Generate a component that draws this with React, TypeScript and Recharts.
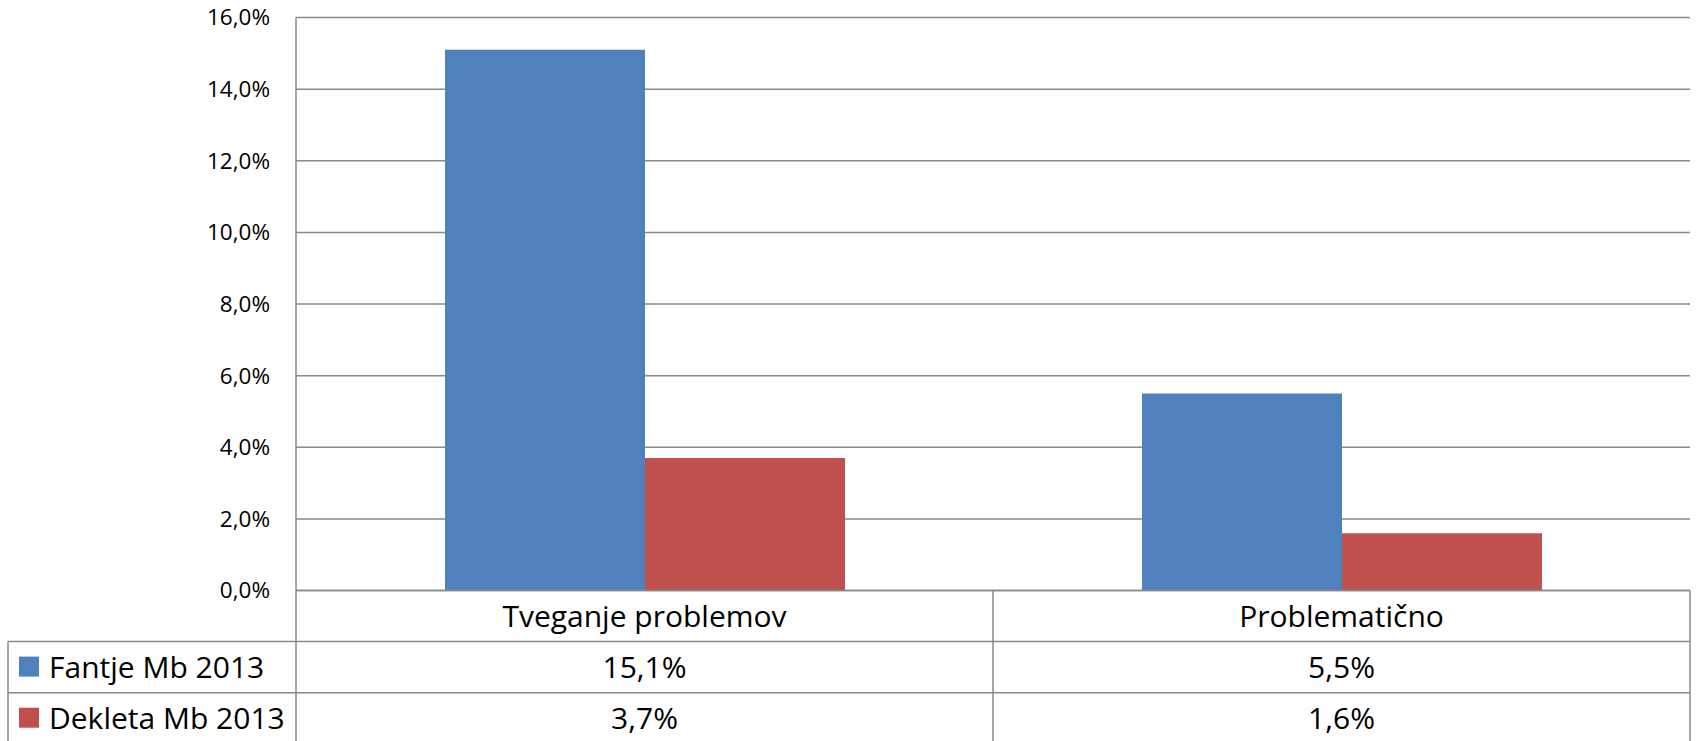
import { BarChart, Bar, XAxis, YAxis, CartesianGrid } from 'recharts'

const categories = ['Tveganje problemov', 'Problematično']
const seriesNames = ['Fantje Mb 2013', 'Dekleta Mb 2013']
const fantje = [15.1, 5.5]
const dekleta = [3.7, 1.6]
const yTicks = [0, 2, 4, 6, 8, 10, 12, 14, 16]

const colors = ['#4F81BD', '#C0504D']
const lineColor = '#898989'
const font = '"Open Sans", sans-serif'

const W = 1696
const H = 741
const plotLeft = 296
const plotRight = 1690
const plotTop = 17.5
const plotBottom = 590.5
const yAxisWidth = 80
const rowH = 51.1
const tableLeft = 8

const seriesValues = [fantje, dekleta]
const data = categories.map((name, i) => ({ name, fantje: fantje[i], dekleta: dekleta[i] }))

function fmt(v: number): string {
  return v.toFixed(1).replace('.', ',') + '%'
}

// x axis tick draws the data table under the plot (category row + one row per series)
function TableTick(props: any) {
  const { x, y, index } = props
  const band = (plotRight - plotLeft) / categories.length
  const left = x - band / 2
  const right = x + band / 2
  const ln = { stroke: lineColor, strokeWidth: 1.5 }
  const txt = { fontFamily: font, fontSize: 30, fill: '#000' }

  return (
    <g>
      {index === 0 && <line x1={left} y1={y} x2={left} y2={H} {...ln} />}
      <line x1={right} y1={y} x2={right} y2={H} {...ln} />
      {seriesValues.map((_, s) => (
        <line key={s} x1={left} y1={y + rowH * (s + 1)} x2={right} y2={y + rowH * (s + 1)} {...ln} />
      ))}
      <text x={x} y={y + 36} textAnchor="middle" {...txt}>
        {categories[index]}
      </text>
      {seriesValues.map((vals, s) => (
        <text key={s} x={x} y={y + rowH * (s + 1) + 36} textAnchor="middle" {...txt}>
          {fmt(vals[index])}
        </text>
      ))}
      {index === 0 && (
        <g>
          <line x1={tableLeft} y1={y + rowH} x2={tableLeft} y2={H} {...ln} />
          {seriesNames.map((name, s) => {
            const top = y + rowH * (s + 1)
            return (
              <g key={name}>
                <line x1={tableLeft} y1={top} x2={left} y2={top} {...ln} />
                <rect x={19} y={top + 15} width={20} height={20} fill={colors[s]} />
                <text x={49} y={top + 36} textAnchor="start" {...txt}>
                  {name}
                </text>
              </g>
            )
          })}
        </g>
      )}
    </g>
  )
}

export default function App() {
  return (
    <div style={{ position: 'absolute', left: 0, top: 0, background: '#fff' }}>
      <BarChart
        width={W}
        height={H}
        data={data}
        margin={{ top: plotTop, right: W - plotRight, bottom: 0, left: plotLeft - yAxisWidth }}
        barCategoryGap={149}
        barGap={0}
      >
        <CartesianGrid vertical={false} stroke={lineColor} strokeWidth={1.5} />
        <XAxis
          dataKey="name"
          height={H - plotBottom}
          interval={0}
          tickSize={0}
          tickMargin={0}
          tickLine={false}
          axisLine={{ stroke: lineColor, strokeWidth: 1.5 }}
          tick={<TableTick />}
        />
        <YAxis
          width={yAxisWidth}
          domain={[0, 16]}
          ticks={yTicks}
          interval={0}
          tickSize={0}
          tickMargin={26}
          tickLine={false}
          axisLine={{ stroke: lineColor, strokeWidth: 1.5 }}
          tick={{ fontFamily: font, fontSize: 22.5, fill: '#000' }}
          tickFormatter={(v: number) => fmt(v)}
        />
        <Bar dataKey="fantje" name={seriesNames[0]} fill={colors[0]} isAnimationActive={false} />
        <Bar dataKey="dekleta" name={seriesNames[1]} fill={colors[1]} isAnimationActive={false} />
      </BarChart>
    </div>
  )
}
